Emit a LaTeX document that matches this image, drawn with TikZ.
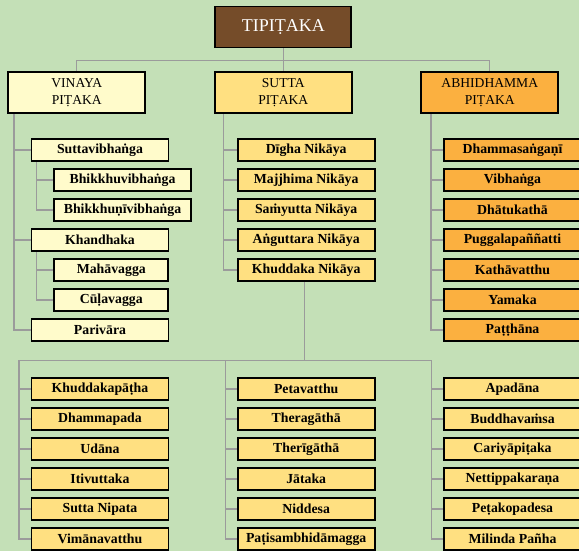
\documentclass[tikz,border=0pt]{standalone}
\usepackage{fontspec}
\setmainfont{Liberation Serif}
\usetikzlibrary{positioning, calc}
\definecolor{bgreen}{HTML}{C4E0B7}
\definecolor{tipibrown}{HTML}{754C29}
\definecolor{vinfill}{HTML}{FFFBCB}
\definecolor{sutfill}{HTML}{FFE081}
\definecolor{abhifill}{HTML}{FBB040}
\definecolor{linkgray}{HTML}{9B9B9B}

\begin{document}
\begin{tikzpicture}[x=1pt, y=-1pt,
	box/.style={draw=black, line width=1.8pt, inner sep=0pt, align=center},
	head/.style={box, minimum width=137pt, minimum height=41pt, font=\fontsize{13.6}{17.3}\selectfont},
	item/.style={box, minimum width=137pt, minimum height=22.5pt, font=\bfseries\fontsize{13.8}{15}\selectfont},
	link/.style={draw=linkgray, line width=1.3pt}]
	\fill[bgreen] (0,0) rectangle (579,551);
	\useasboundingbox (0,0) rectangle (579,551);

	% the three baskets
	\node[box, fill=tipibrown, text=white, minimum width=136pt, minimum height=41pt, font=\fontsize{18}{20}\selectfont] (tipi) at (283.3,27) {TIPIṬAKA};
	\node[head, fill=vinfill] (vinaya) at (76.8,92.7) {VINAYA\\PIṬAKA};
	\node[head, fill=sutfill] (sutta) at (283.3,92.7) {SUTTA\\PIṬAKA};
	\node[head, fill=abhifill] (abhi) at (489.8,92.7) {ABHIDHAMMA\\PIṬAKA};
	\draw[link] (tipi.south) -- ++(0,12) coordinate (tj);
	\foreach \n in {vinaya, sutta, abhi}
		\draw[link] (tj) -| (\n.north);

	% vinaya
	\node[item, fill=vinfill] (sv) at (100,150) {Suttavibhaṅga};
	\node[item, fill=vinfill] (bv) at (122.5,180) {Bhikkhuvibhaṅga};
	\node[item, fill=vinfill] (bnv) at (122.5,210) {Bhikkhuṇīvibhaṅga};
	\node[item, fill=vinfill] (kh) at (100,240) {Khandhaka};
	\node[item, fill=vinfill, minimum width=114pt] (mv) at (111.3,270) {Mahāvagga};
	\node[item, fill=vinfill, minimum width=114pt] (cv) at (111.3,300) {Cūḷavagga};
	\node[item, fill=vinfill] (pv) at (100,330) {Parivāra};
	\foreach \n in {sv, kh, pv}
		\draw[link] ([xshift=6.5pt]vinaya.south west) |- (\n.west);
	\foreach \n in {bv, bnv}
		\draw[link] ([xshift=6pt]sv.south west) |- (\n.west);
	\foreach \n in {mv, cv}
		\draw[link] ([xshift=6pt]kh.south west) |- (\n.west);

	% sutta
	\foreach \t [count=\i] in {Dīgha Nikāya, Majjhima Nikāya, Saṁyutta Nikāya, Aṅguttara Nikāya, Khuddaka Nikāya}
		\node[item, fill=sutfill] (s\i) at (306.2,120+30*\i) {\t};
	\foreach \i in {1,...,5}
		\draw[link] ([xshift=9.5pt]sutta.south west) |- (s\i.west);

	% abhidhamma
	\foreach \t [count=\i] in {Dhammasaṅgaṇī, Vibhaṅga, Dhātukathā, Puggalapaññatti, Kathāvatthu, Yamaka, Paṭṭhāna}
		\node[item, fill=abhifill] (a\i) at (512.5,120+30*\i) {\t};
	\foreach \i in {1,...,7}
		\draw[link] ([xshift=10.5pt]abhi.south west) |- (a\i.west);

	% khuddaka nikaya
	\foreach \t [count=\i] in {Khuddakapāṭha, Dhammapada, Udāna, Itivuttaka, Sutta Nipata, Vimānavatthu}
		\node[item, fill=sutfill] (k\i) at (100,359+30*\i) {\t};
	\foreach \t [count=\i from 7] in {Petavatthu, Theragāthā, Therīgāthā, Jātaka, Niddesa, Paṭisambhidāmagga}
		\node[item, fill=sutfill] (k\i) at (306.2,179+30*\i) {\t};
	\foreach \t [count=\i from 13] in {Apadāna, Buddhavaṁsa, Cariyāpiṭaka, Nettippakaraṇa, Peṭakopadesa, Milinda Pañha}
		\node[item, fill=sutfill] (k\i) at (512.5,-1+30*\i) {\t};
	\draw[link] ([xshift=-2pt]s5.south) -- ++(0,78) coordinate (kj);
	\foreach \c in {1, 7, 13}
		\coordinate (col\c) at ([xshift=-11.5pt]k\c.west);
	\draw[link] (col1 |- kj) -- (col13 |- kj);
	\foreach \i in {1,...,18} {
		\pgfmathtruncatemacro\c{int((\i-1)/6)*6+1}
		\draw[link] (col\c |- kj) |- (k\i.west);
	}
\end{tikzpicture}
\end{document}
